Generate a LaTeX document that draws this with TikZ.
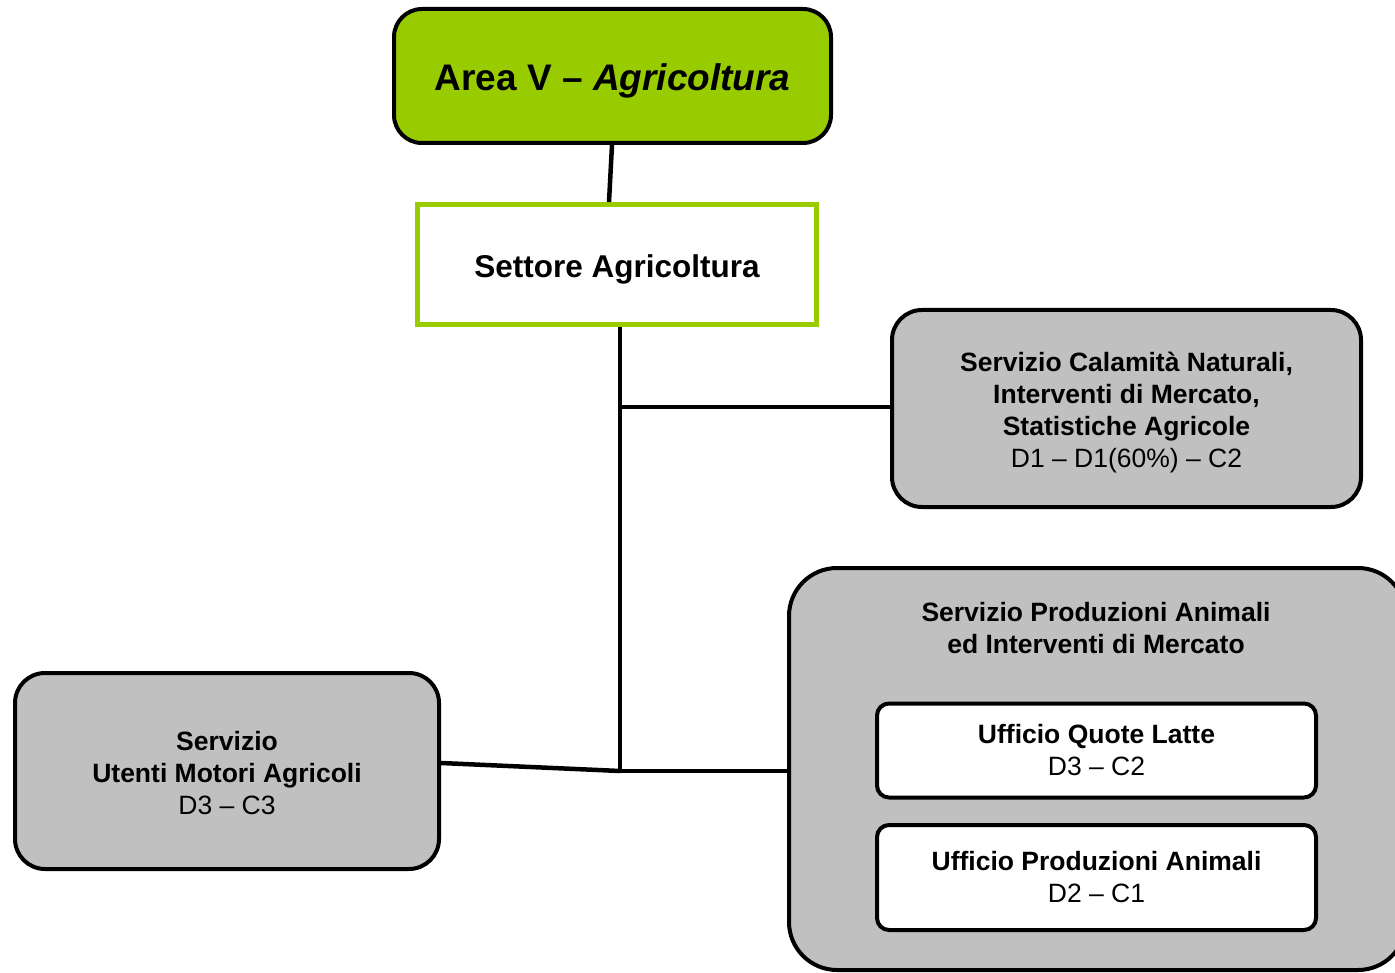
\documentclass[tikz,border=0pt]{standalone}
\usepackage{fontspec}
\setmainfont{Liberation Sans}
\definecolor{agrigreen}{HTML}{99CC00}
\definecolor{boxgray}{HTML}{C0C0C0}
\begin{document}
\begin{tikzpicture}[x=1pt,y=-1pt,
  conn/.style={line width=4.5pt},
  basebox/.style={draw=black,line width=4pt,align=center,inner sep=0pt},
  graybox/.style={basebox,fill=boxgray,rounded corners=30pt},
  whitebox/.style={basebox,fill=white,rounded corners=12pt,font=\fontsize{26.5}{32}\selectfont},
  boxtext/.style={align=center,inner sep=0pt,font=\fontsize{26.5}{32}\selectfont},
]
\clip (0,0) rectangle (1395,973);
\fill[white] (0,0) rectangle (1395,973);

% Top area box
\node[basebox,fill=agrigreen,rounded corners=28pt,minimum width=437pt,minimum height=134pt] (area) at (612.5,76) {};
\node[inner sep=0pt,font=\fontsize{37}{44}\selectfont\bfseries] (areatext) at (612.5,81) {Area V -- \textit{Agricoltura}};

% Settore box
\node[draw=agrigreen,line width=5pt,fill=white,inner sep=0pt,minimum width=399pt,minimum height=120pt] (settore) at (617,264.5) {};
\node[inner sep=0pt,font=\fontsize{31.5}{38}\selectfont\bfseries] (settoretext) at (617,269.5) {Settore Agricoltura};

% Calamita box
\node[graybox,minimum width=469pt,minimum height=197pt] (calam) at (1126.5,408.5) {};
\node[boxtext] (calamtext) at (1126.5,412.5)
  {\textbf{Servizio Calamità Naturali,}\\\textbf{Interventi di Mercato,}\\\textbf{Statistiche Agricole}\\D1 -- D1(60\%) -- C2};

% Left box
\node[graybox,minimum width=424pt,minimum height=196pt] (left) at (227,771) {};
\node[boxtext] (lefttext) at (227,773)
  {\textbf{Servizio}\\\textbf{Utenti Motori Agricoli}\\D3 -- C3};

% Big box
\node[basebox,fill=boxgray,rounded corners=48pt,minimum width=617pt,minimum height=402pt] (big) at (1097.5,769) {};
\node[boxtext,font=\fontsize{26.5}{32}\selectfont\bfseries] (bigtitle) at (1096,628)
  {Servizio Produzioni Animali\\ed Interventi di Mercato};

% Ufficio boxes
\node[whitebox,minimum width=439pt,minimum height=94pt] (uql) at (1096.5,750.5)
  {\textbf{Ufficio Quote Latte}\\D3 -- C2};
\node[whitebox,minimum width=439pt,minimum height=105pt] (upa) at (1096.5,877.5)
  {\textbf{Ufficio Produzioni Animali}\\D2 -- C1};

% connectors
\coordinate (s1) at (609,202);
\coordinate (j1) at (620,407);
\coordinate (j2) at (620,771);
\draw[conn] (area.south -| 612,0) -- (s1);
\draw[conn] (settore.south -| j1) -- (j2);
\draw[conn] (j1) -- (calam.west |- j1);
\draw[conn] (j2) -- (big.west |- j2);
\draw[conn] ([yshift=8pt]left.east) -- (j2);
\end{tikzpicture}
\end{document}
